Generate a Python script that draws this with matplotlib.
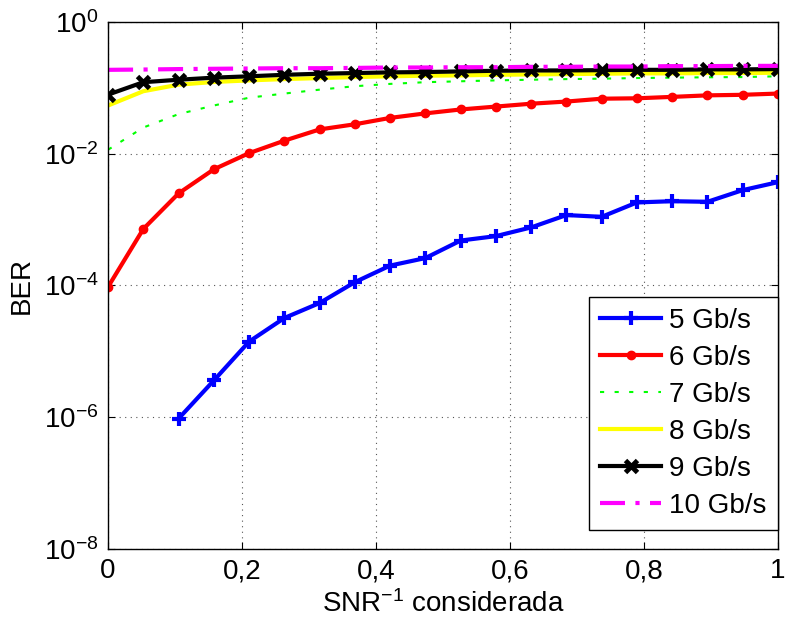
import matplotlib
matplotlib.use("Agg")
import matplotlib.pyplot as plt
import numpy as np
from matplotlib.ticker import FixedLocator, FixedFormatter

plt.rcParams["font.family"] = ["Liberation Sans", "DejaVu Sans"]
plt.rcParams["mathtext.fontset"] = "custom"
plt.rcParams["mathtext.rm"] = "Liberation Sans"
plt.rcParams["mathtext.it"] = "Liberation Sans:italic"
plt.rcParams["mathtext.bf"] = "Liberation Sans:bold"

# SNR^-1 grid (20 points from 0 to 1)
snr_inv = [0.0, 0.0526, 0.1053, 0.1579, 0.2105, 0.2632, 0.3158, 0.3684, 0.4211, 0.4737,
           0.5263, 0.5789, 0.6316, 0.6842, 0.7368, 0.7895, 0.8421, 0.8947, 0.9474, 1.0]

# 5 Gb/s starts at the third point
ber_5 = [9.5e-7, 3.6e-6, 1.4e-5, 3.2e-5, 5.4e-5, 1.12e-4, 2.0e-4, 2.6e-4, 4.8e-4,
         5.6e-4, 7.6e-4, 1.17e-3, 1.10e-3, 1.82e-3, 1.9e-3, 1.86e-3, 2.8e-3, 3.7e-3]
ber_6 = [9.5e-5, 7.2e-4, 2.5e-3, 5.8e-3, 1.02e-2, 1.58e-2, 2.34e-2, 2.8e-2, 3.5e-2, 4.1e-2,
         4.7e-2, 5.2e-2, 5.75e-2, 6.2e-2, 6.85e-2, 6.95e-2, 7.3e-2, 7.7e-2, 7.85e-2, 8.2e-2]
ber_7 = [0.0115, 0.025, 0.040, 0.054, 0.071, 0.082, 0.094, 0.106, 0.115, 0.122,
         0.126, 0.130, 0.133, 0.136, 0.138, 0.141, 0.143, 0.145, 0.146, 0.150]
ber_8 = [0.054, 0.089, 0.112, 0.123, 0.130, 0.136, 0.141, 0.146, 0.150, 0.153,
         0.155, 0.158, 0.160, 0.162, 0.164, 0.166, 0.166, 0.168, 0.168, 0.170]
ber_9 = [0.079, 0.122, 0.133, 0.143, 0.150, 0.158, 0.164, 0.168, 0.172, 0.174,
         0.178, 0.182, 0.184, 0.184, 0.186, 0.188, 0.188, 0.191, 0.191, 0.193]
ber_10 = [0.188, 0.190, 0.193, 0.195, 0.197, 0.199, 0.199, 0.201, 0.204, 0.204,
          0.206, 0.206, 0.209, 0.209, 0.211, 0.211, 0.214, 0.214, 0.216, 0.216]

labels = ["5 Gb/s", "6 Gb/s", "7 Gb/s", "8 Gb/s", "9 Gb/s", "10 Gb/s"]
x_ticks = [0, 0.2, 0.4, 0.6, 0.8, 1.0]
x_tick_labels = ["0", "0,2", "0,4", "0,6", "0,8", "1"]
y_ticks = [1e-8, 1e-6, 1e-4, 1e-2, 1e0]
y_tick_labels = [r"$10^{-8}$", r"$10^{-6}$", r"$10^{-4}$", r"$10^{-2}$", r"$10^{0}$"]

FS = 20

fig = plt.figure(figsize=(7.89, 6.30), dpi=100)
ax = fig.add_axes([0.137, 0.129, 0.849, 0.836])

ax.plot(snr_inv[2:], ber_5, color="#0000ff", lw=3, marker="+", ms=10, mew=3, label=labels[0])
ax.plot(snr_inv, ber_6, color="#ff0000", lw=3, marker="o", ms=6, label=labels[1])
ax.plot(snr_inv, ber_7, color="#00ff00", lw=1.5, ls=(0, (2, 5)), label=labels[2])
ax.plot(snr_inv, ber_8, color="#ffff00", lw=3, label=labels[3])
ax.plot(snr_inv, ber_9, color="#000000", lw=3, marker="x", ms=9, mew=3.5, label=labels[4])
ax.plot(snr_inv, ber_10, color="#ff00ff", lw=3, ls=(0, (6, 2.5, 1, 2.5)), label=labels[5])

ax.set_yscale("log")
ax.set_xlim(0, 1)
ax.set_ylim(1e-8, 1e0)
ax.xaxis.set_major_locator(FixedLocator(x_ticks))
ax.xaxis.set_major_formatter(FixedFormatter(x_tick_labels))
ax.yaxis.set_major_locator(FixedLocator(y_ticks))
ax.yaxis.set_major_formatter(FixedFormatter(y_tick_labels))
ax.yaxis.set_minor_locator(FixedLocator([]))
ax.tick_params(labelsize=FS, direction="in", length=5, top=True, right=True, pad=7)
ax.grid(True, ls=(0, (1, 4)), color="#555555", lw=0.8)
for s in ax.spines.values():
    s.set_linewidth(1.0)

ax.set_xlabel(r"SNR$^{-1}$ considerada", fontsize=FS, labelpad=4)
ax.set_ylabel("BER", fontsize=FS, labelpad=6)

leg = ax.legend(loc="lower right", bbox_to_anchor=(1.0, 0.035), fontsize=FS,
                handlelength=2.2, fancybox=False, framealpha=1, edgecolor="black",
                borderaxespad=0.0, labelspacing=0.4, handletextpad=0.3, borderpad=0.4)
leg.get_frame().set_linewidth(1.0)

fig.savefig("out.png", dpi=100)
